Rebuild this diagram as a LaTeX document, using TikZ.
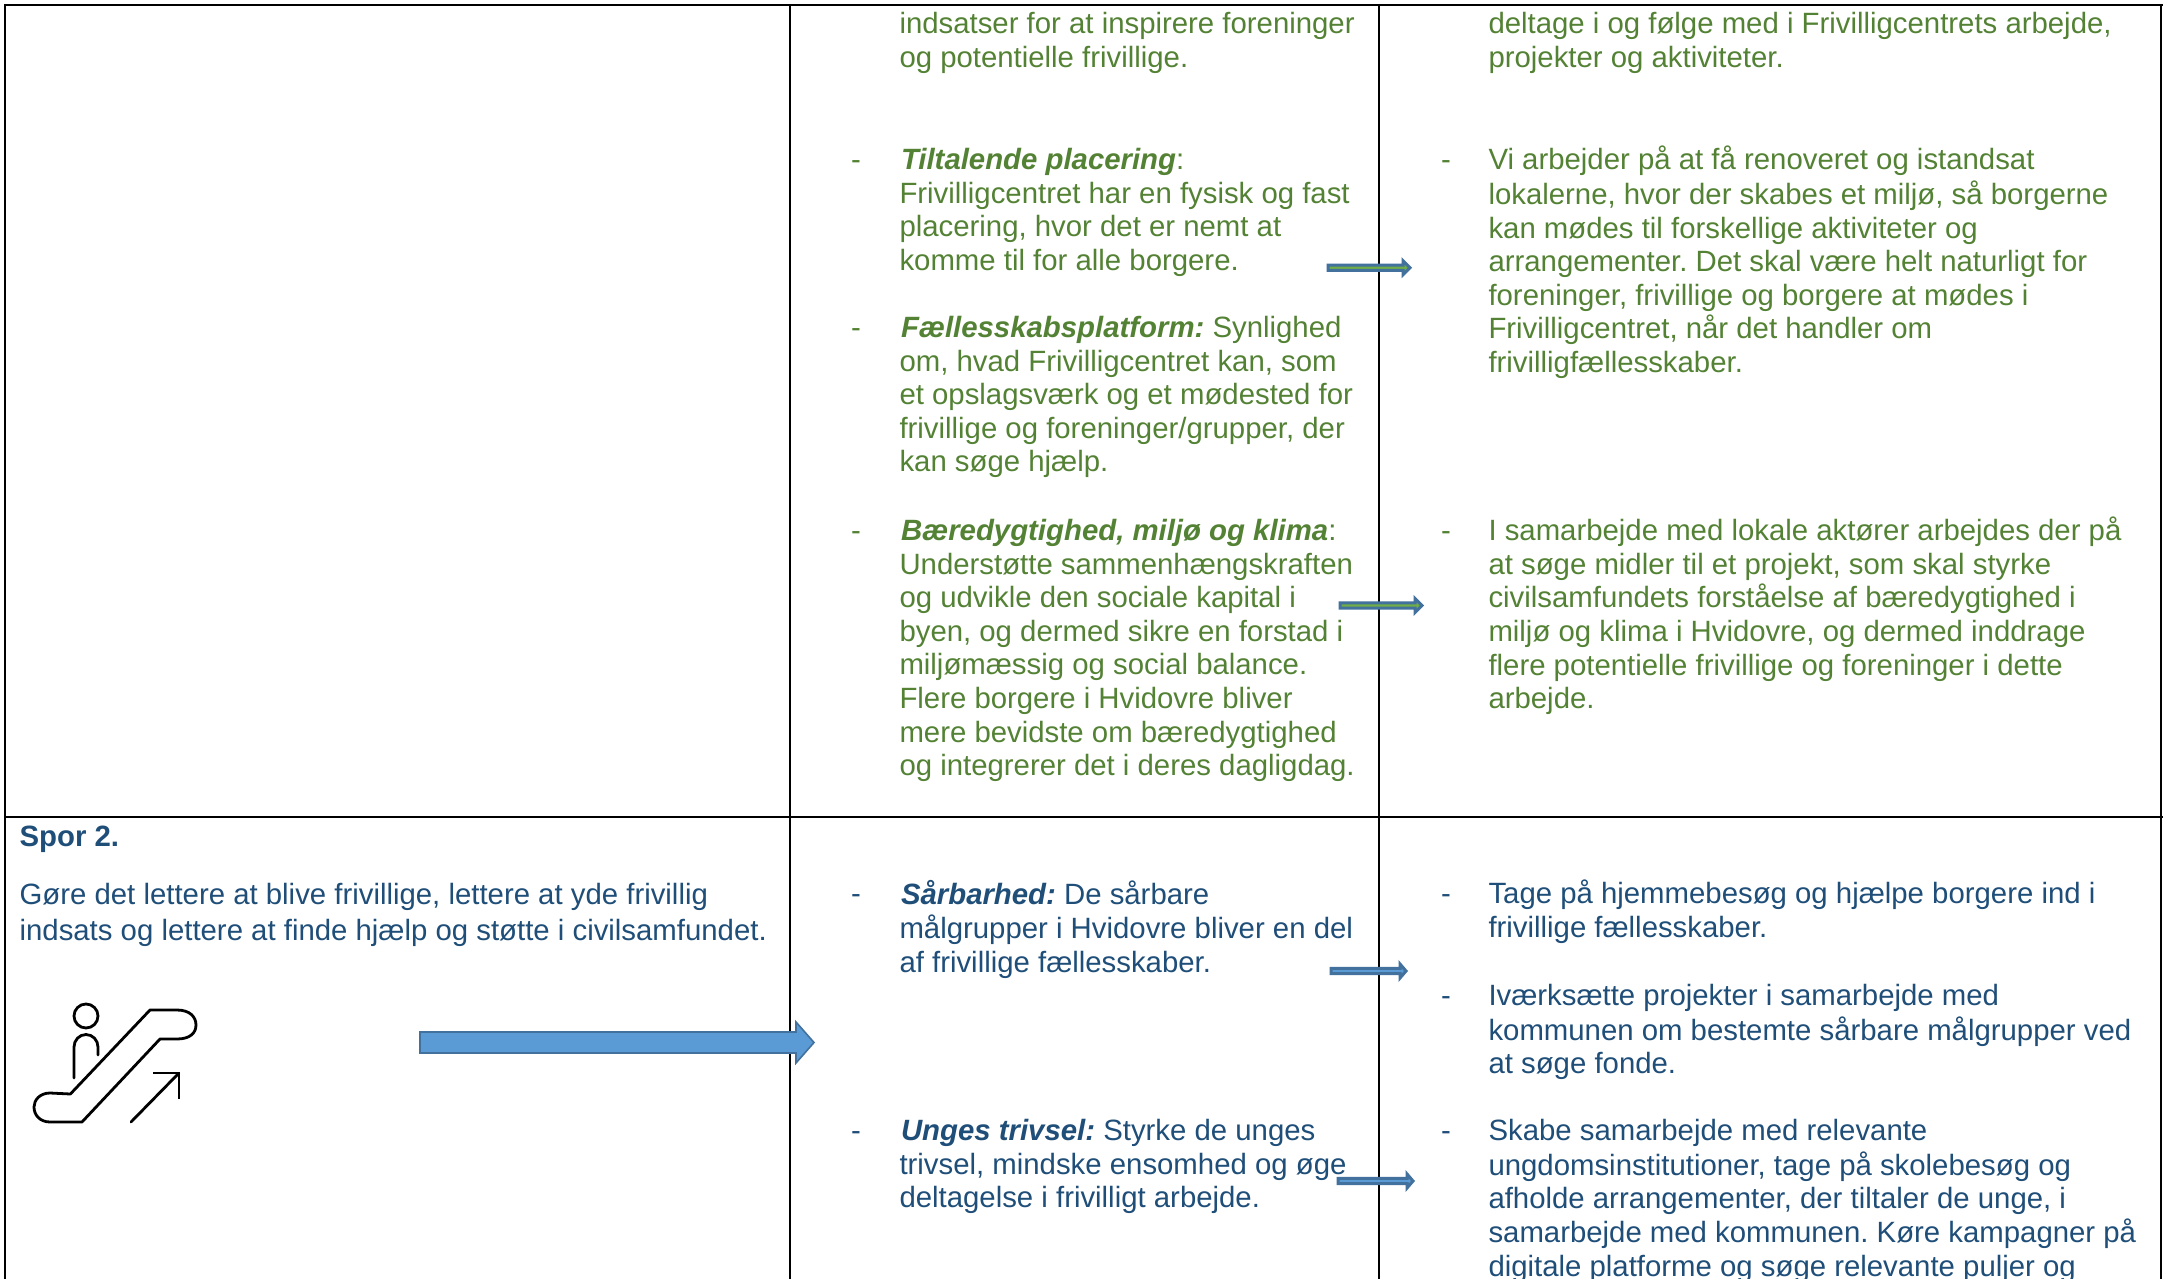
\documentclass[tikz,border=0pt]{standalone}
\usepackage{fontspec}
\setmainfont{Liberation Sans}
\frenchspacing
\definecolor{grn}{HTML}{548235}
\definecolor{blu}{HTML}{1F4E79}
\definecolor{arrowedge}{HTML}{41719C}
\definecolor{arrowblue}{HTML}{5B9BD5}
\definecolor{arrowgreen}{HTML}{70AD47}
\newcommand{\bi}[1]{\hspace{1.5pt}\textbf{\textit{#1}}}
% name, x1, x2, y, head start x, shaft half-height, head half-height, fill, line width
\newcommand{\blockarrow}[9]{%
  \coordinate (#1-tail) at (#2,#4);
  \coordinate (#1-tip) at (#3,#4);
  \draw[draw=arrowedge,fill=#8,line width=#9pt,line join=miter]
    ($(#1-tail)+(0,-#6)$) -- (#5,#4-#6) -- (#5,#4-#7) -- (#1-tip) -- (#5,#4+#7) -- (#5,#4+#6) -- ($(#1-tail)+(0,#6)$) -- cycle;}
\usetikzlibrary{calc}
\tikzset{
  rule/.style={draw=black,line width=2pt},
  para/.style={anchor=north west,inner sep=0pt,outer sep=0pt,align=left,yshift=22pt,
     font=\fontsize{29.35}{33.6}\selectfont},
  lead/.style={anchor=north west,inner sep=0pt,outer sep=0pt,align=left,yshift=25pt,
     font=\fontsize{29.35}{36}\selectfont},
  greentxt/.style={para,text=grn},
  bluetxt/.style={para,text=blu},
  icon/.style={draw=black,line width=2.8pt,line cap=round,line join=round},
}
\begin{document}
\begin{tikzpicture}[x=1pt,y=-1pt]
\useasboundingbox (0,0) rectangle (2163,1279);
\fill[white] (0,0) rectangle (2163,1279);
\begin{scope}
\clip (0,0) rectangle (2163,1279);
% grid
\coordinate (tl) at (4,5); \coordinate (tr) at (2163,5);
\coordinate (ml) at (4,817); \coordinate (mr) at (2163,817);
\draw[rule] (tl) -- (tr);
\draw[rule] (ml) -- (mr);
\draw[rule] (5,4) -- (5,1279);
\draw[rule] (790,4) -- (790,1279);
\draw[rule] (1379,4) -- (1379,1279);
\draw[rule] (2161,4) -- (2161,1279);

% column 2, green
\node[greentxt] (g1) at (899.5,32) {\strut indsatser for at inspirere foreninger\\og potentielle frivillige.};
\node[greentxt] (g2d) at (851,168) {\strut -};
\node[greentxt] (g2) at (899.5,168) {\strut\bi{Tiltalende placering}:\\Frivilligcentret har en fysisk og fast\\placering, hvor det er nemt at\\komme til for alle borgere.};
\node[greentxt] (g3d) at (851,336) {\strut -};
\node[greentxt] (g3) at (899.5,336) {\strut\bi{Fællesskabsplatform:} Synlighed\\om, hvad Frivilligcentret kan, som\\et opslagsværk og et mødested for\\frivillige og foreninger/grupper, der\\kan søge hjælp.};
\node[greentxt] (g4d) at (851,539) {\strut -};
\node[greentxt] (g4) at (899.5,539) {\strut\bi{Bæredygtighed, miljø og klima}:\\Understøtte sammenhængskraften\\og udvikle den sociale kapital i\\byen, og dermed sikre en forstad i\\miljømæssig og social balance.\\Flere borgere i Hvidovre bliver\\mere bevidste om bæredygtighed\\og integrerer det i deres dagligdag.};

% column 3, green
\node[greentxt] (r1) at (1488.5,32) {\strut deltage i og følge med i Frivilligcentrets arbejde,\\projekter og aktiviteter.};
\node[greentxt] (r2d) at (1441,168) {\strut -};
\node[greentxt] (r2) at (1488.5,168) {\strut Vi arbejder på at få renoveret og istandsat\\lokalerne, hvor der skabes et miljø, så borgerne\\kan mødes til forskellige aktiviteter og\\arrangementer. Det skal være helt naturligt for\\foreninger, frivillige og borgere at mødes i\\Frivilligcentret, når det handler om\\frivilligfællesskaber.};
\node[greentxt] (r3d) at (1441,539) {\strut -};
\node[greentxt] (r3) at (1488.5,539) {\strut I samarbejde med lokale aktører arbejdes der på\\at søge midler til et projekt, som skal styrke\\civilsamfundets forståelse af bæredygtighed i\\miljø og klima i Hvidovre, og dermed inddrage\\flere potentielle frivillige og foreninger i dette\\arbejde.};

% left cell
\node[bluetxt] (spor) at (19.6,845) {\strut\textbf{Spor 2.}};
\node[lead,text=blu] (goal) at (19.6,904) {\strut Gøre det lettere at blive frivillige, lettere at yde frivillig\\indsats og lettere at finde hjælp og støtte i civilsamfundet.};

% column 2, blue
\node[bluetxt] (b1d) at (851,902) {\strut -};
\node[bluetxt] (b1) at (899.5,902) {\strut\bi{Sårbarhed:} De sårbare\\målgrupper i Hvidovre bliver en del\\af frivillige fællesskaber.};
\node[bluetxt] (b2d) at (851,1139) {\strut -};
\node[bluetxt] (b2) at (899.5,1139) {\strut\bi{Unges trivsel:} Styrke de unges\\trivsel, mindske ensomhed og øge\\deltagelse i frivilligt arbejde.};

% column 3, blue
\node[bluetxt] (c1d) at (1441,902) {\strut -};
\node[bluetxt] (c1) at (1488.5,902) {\strut Tage på hjemmebesøg og hjælpe borgere ind i\\frivillige fællesskaber.};
\node[bluetxt] (c2d) at (1441,1004) {\strut -};
\node[bluetxt] (c2) at (1488.5,1004) {\strut Iværksætte projekter i samarbejde med\\kommunen om bestemte sårbare målgrupper ved\\at søge fonde.};
\node[bluetxt] (c3d) at (1441,1139) {\strut -};
\node[bluetxt] (c3) at (1488.5,1139) {\strut Skabe samarbejde med relevante\\ungdomsinstitutioner, tage på skolebesøg og\\afholde arrangementer, der tiltaler de unge, i\\samarbejde med kommunen. Køre kampagner på\\digitale platforme og søge relevante puljer og};

% escalator icon
\draw[icon] (86,1016) ellipse [x radius=12,y radius=12];
\draw[icon] (74,1078) -- (74,1047) arc[start angle=180,end angle=360,x radius=12,y radius=12.5] -- (98,1055);
\draw[icon] (70.4,1094) -- (150,1010) -- (177,1010)
   .. controls (190,1010) and (196,1017) .. (196,1025)
   .. controls (196,1033) and (190,1039) .. (177,1039)
   -- (160,1039) -- (82,1122) -- (50,1122)
   .. controls (40,1122) and (34,1115) .. (34,1107)
   .. controls (34,1100) and (40,1093) .. (50,1093) -- cycle;
\draw[icon] (131,1122) -- (179,1073);
\draw[icon,line cap=butt] (153,1073) -- (179,1073) -- (179,1099);

% arrows
\blockarrow{big}{420}{814}{1042.5}{796}{10.5}{20.5}{arrowblue}{1.6}
\blockarrow{a1}{1328}{1410}{267.7}{1403}{2.6}{7}{arrowgreen}{3}
\blockarrow{a2}{1340}{1422}{605.5}{1415}{2.6}{7}{arrowgreen}{3}
\blockarrow{a3}{1331}{1406}{971}{1400}{2.6}{7}{arrowblue}{3}
\blockarrow{a4}{1338}{1413}{1181}{1407}{2.6}{7}{arrowblue}{3}
\end{scope}
\end{tikzpicture}
\end{document}
